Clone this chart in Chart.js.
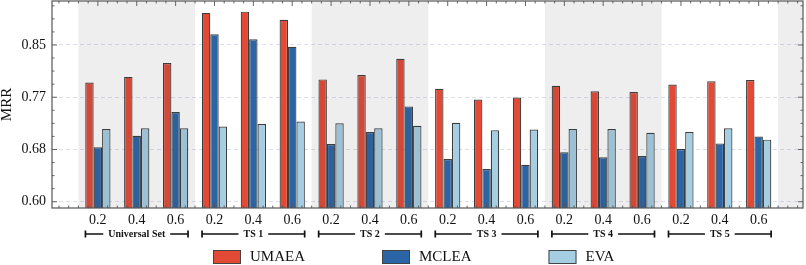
<!DOCTYPE html>
<html>
<head>
<meta charset="utf-8">
<script src="https://cdn.jsdelivr.net/npm/chart.js@4.4.1/dist/chart.umd.min.js"></script>
<style>
  html, body { margin: 0; padding: 0; background: #fff; }
  #wrap { width: 806px; height: 265px; }
</style>
</head>
<body>
<div id="wrap"><canvas id="chart" width="806" height="265"></canvas></div>
<script>
// data
const groups = ["Universal Set", "TS 1", "TS 2", "TS 3", "TS 4", "TS 5"];
const ratios = ["0.2", "0.4", "0.6"];
const categories = groups.flatMap(() => ratios);

const umaea = [0.790, 0.799, 0.821, 0.901, 0.903, 0.890, 0.795, 0.802, 0.828,
               0.780, 0.763, 0.766, 0.785, 0.776, 0.775, 0.787, 0.792, 0.794];
const mclea = [0.687, 0.705, 0.743, 0.867, 0.859, 0.847, 0.692, 0.711, 0.752,
               0.668, 0.652, 0.659, 0.679, 0.671, 0.673, 0.684, 0.693, 0.704];
const eva   = [0.716, 0.717, 0.717, 0.720, 0.724, 0.728, 0.725, 0.717, 0.721,
               0.726, 0.714, 0.715, 0.716, 0.716, 0.710, 0.711, 0.717, 0.699];

const yTicks = [0.60, 0.6833, 0.7667, 0.85];

const SERIF = "'Liberation Serif', 'DejaVu Serif', serif";

function toPoints(arr) {
    return arr.map((v, i) => ({ x: i, y: v }));
}

// shading, frame, inward ticks, group brackets, legend
const decor = {
    id: "decor",
    afterDatasetsDraw(chart) {
        const { ctx, chartArea: a, scales: { x, y } } = chart;

        // grey bands over every other group
        ctx.save();
        ctx.fillStyle = "rgba(60,60,60,0.085)";
        for (let g = 0; g <= groups.length; g += 2) {
            const x0 = Math.max(a.left, x.getPixelForValue(g * 3 - 0.5));
            const x1 = Math.min(a.right, x.getPixelForValue(g * 3 + 2.5));
            if (x1 > x0) ctx.fillRect(x0, a.top, x1 - x0, a.bottom - a.top);
        }
        ctx.restore();

        // frame
        ctx.save();
        ctx.strokeStyle = "#555";
        ctx.lineWidth = 1.2;
        ctx.strokeRect(a.left, a.top, a.right - a.left, a.bottom - a.top);

        ctx.lineWidth = 0.9;
        ctx.beginPath();
        // x ticks (top and bottom, pointing in)
        for (let v = -1; v <= 18; v += 0.25) {
            const px = x.getPixelForValue(v);
            if (px <= a.left + 1 || px >= a.right - 1) continue;
            const major = Number.isInteger(v) && v >= 0 && v < categories.length;
            const len = major ? 5 : 2.5;
            ctx.moveTo(px, a.bottom); ctx.lineTo(px, a.bottom - len);
            ctx.moveTo(px, a.top); ctx.lineTo(px, a.top + len);
        }
        // y ticks (left and right, pointing in)
        const step = (yTicks[1] - yTicks[0]) / 4;
        for (let k = -2; k <= 20; k++) {
            const v = yTicks[0] + k * step;
            const py = y.getPixelForValue(v);
            if (py <= a.top + 1 || py >= a.bottom - 1) continue;
            const len = k % 4 === 0 ? 5 : 2.5;
            ctx.moveTo(a.left, py); ctx.lineTo(a.left + len, py);
            ctx.moveTo(a.right, py); ctx.lineTo(a.right - len, py);
        }
        ctx.stroke();
        ctx.restore();
    },
    afterDraw(chart) {
        const { ctx, scales: { x } } = chart;

        // group brackets under the ratio labels
        ctx.save();
        const by = 234;
        ctx.font = "bold 10px " + SERIF;
        ctx.textAlign = "center";
        ctx.textBaseline = "middle";
        groups.forEach((name, g) => {
            const x0 = x.getPixelForValue(g * 3 - 0.32);
            const x1 = x.getPixelForValue(g * 3 + 2.32);
            const xc = x.getPixelForValue(g * 3 + 1);
            const half = ctx.measureText(name).width / 2 + 5;
            ctx.strokeStyle = "#111";
            ctx.lineWidth = 1.7;
            ctx.beginPath();
            ctx.moveTo(x0, by); ctx.lineTo(xc - half, by);
            ctx.moveTo(xc + half, by); ctx.lineTo(x1, by);
            ctx.moveTo(x0, by - 3.5); ctx.lineTo(x0, by + 3.5);
            ctx.moveTo(x1, by - 3.5); ctx.lineTo(x1, by + 3.5);
            ctx.stroke();
            ctx.fillStyle = "#111";
            ctx.fillText(name, xc, by + 0.5);
        });
        ctx.restore();

        // legend
        ctx.save();
        ctx.font = "15px " + SERIF;
        ctx.textBaseline = "middle";
        ctx.textAlign = "left";
        let lx = 213;
        const ly = 250;
        chart.data.datasets.forEach(ds => {
            ctx.fillStyle = ds.backgroundColor;
            ctx.fillRect(lx, ly, 28, 14);
            ctx.strokeStyle = "#444";
            ctx.lineWidth = 1;
            ctx.strokeRect(lx + 0.5, ly + 0.5, 27, 13);
            ctx.fillStyle = "#111";
            ctx.fillText(ds.label, lx + 37, ly + 7.5);
            lx += 37 + ctx.measureText(ds.label).width + 77;
        });
        ctx.restore();
    }
};

const barStyle = {
    borderColor: "rgba(40,40,40,0.9)",
    borderWidth: 1.2,
    categoryPercentage: 0.65,
    barPercentage: 1.0
};

new Chart(document.getElementById("chart"), {
    type: "bar",
    data: {
        datasets: [
            { label: "UMAEA", data: toPoints(umaea), backgroundColor: "#e24a36", ...barStyle },
            { label: "MCLEA", data: toPoints(mclea), backgroundColor: "#2b65a5", ...barStyle },
            { label: "EVA",   data: toPoints(eva),   backgroundColor: "#a6cee3", ...barStyle }
        ]
    },
    options: {
        responsive: false,
        animation: false,
        devicePixelRatio: 1,
        layout: { padding: { top: 1, right: 3, left: 0, bottom: 0 } },
        plugins: {
            legend: { display: false },
            tooltip: { enabled: false }
        },
        scales: {
            x: {
                type: "linear",
                min: -1.18,
                max: 18.14,
                offset: false,
                grid: { display: false, offset: false, drawTicks: false },
                border: { display: false },
                afterBuildTicks: s => { s.ticks = categories.map((_, i) => ({ value: i })); },
                afterFit: s => {
                    s.height = 57;
                    s.paddingLeft = 0; s.paddingRight = 0;
                    s.paddingTop = 0; s.paddingBottom = 0;
                },
                ticks: {
                    autoSkip: false,
                    maxRotation: 0,
                    padding: 4,
                    color: "#111",
                    font: { family: SERIF, size: 14 },
                    callback: v => categories[Math.round(v)]
                }
            },
            y: {
                min: 0.59,
                max: 0.92,
                afterBuildTicks: s => { s.ticks = yTicks.map(v => ({ value: v })); },
                afterFit: s => {
                    s.width = 52;
                    s.paddingTop = 0; s.paddingBottom = 0;
                    s.paddingLeft = 0; s.paddingRight = 0;
                },
                grid: { color: "rgba(185,185,225,0.6)", lineWidth: 0.8, drawTicks: false },
                border: { display: false, dash: [4, 3] },
                ticks: {
                    padding: 6,
                    color: "#111",
                    font: { family: SERIF, size: 14 },
                    callback: v => v.toFixed(2)
                },
                title: {
                    display: true,
                    text: "MRR",
                    color: "#111",
                    padding: 0,
                    font: { family: SERIF, size: 15, lineHeight: 1 }
                }
            }
        }
    },
    plugins: [decor]
});
</script>
</body>
</html>
